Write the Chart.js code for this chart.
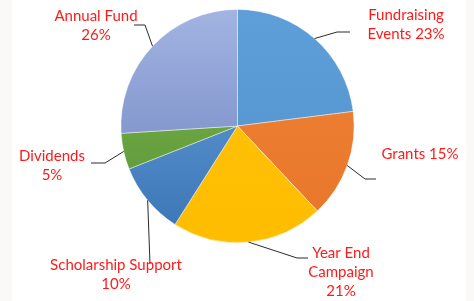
<!DOCTYPE html>
<html>
<head>
<meta charset="utf-8">
<script src="https://cdn.jsdelivr.net/npm/chart.js@4/dist/chart.umd.min.js"></script>
<style>
html,body{margin:0;padding:0;background:#fff;}
canvas{display:block;}
</style>
</head>
<body>
<canvas id="c" width="474" height="301"></canvas>
<script>
// ---- data ----
const categories = ["Fundraising Events", "Grants", "Year End Campaign", "Scholarship Support", "Dividends", "Annual Fund"];
const values = [23, 15, 21, 10, 5, 26];
const labelLines = [
  ["Fundraising", "Events 23%"],
  ["Grants 15%"],
  ["Year End", "Campaign", "21%"],
  ["Scholarship Support", "10%"],
  ["Dividends", "5%"],
  ["Annual Fund", "26%"]
];

// ---- styles / layout ----
// colour stops (top of pie -> bottom of pie)
const sliceColors = [
  ["#5e9fd9", "#5392cc"],
  ["#ef8236", "#e8762a"],
  ["#ffc20a", "#ffbd00"],
  ["#6aa2dc", "#3a74b4"],
  ["#7ab74f", "#5a9234"],
  ["#a3b4e2", "#6a80be"]
];
// label text centre (x, first-line y), elbow point, end point of leader
const labelLayout = [
  {x: 406, y: 15, elbow: [337, 32], end: [350, 32]},
  {x: 420, y: 154, elbow: [365, 179], end: [376, 179]},
  {x: 341, y: 253, elbow: [297, 258], end: [308, 258]},
  {x: 116, y: 265, elbow: null, end: [150, 264]},
  {x: 52, y: 156, elbow: [105, 163], end: [91, 163]},
  {x: 96, y: 16, elbow: [145, 25], end: [134, 25]}
];
const lineHeight = 19;
const labelFont = "15px Lato";
const labelColor = "#ff1a1a";

const bgPlugin = {
  id: 'bg',
  beforeDraw(chart) {
    const c = chart.ctx;
    c.save();
    c.fillStyle = "#ffffff";
    c.fillRect(0, 0, chart.width, chart.height);
    c.fillStyle = "#fbf8f8";
    c.fillRect(0, 0, 12, chart.height);
    c.fillRect(466, 0, chart.width - 466, chart.height);
    c.restore();
  }
};

const labelPlugin = {
  id: 'labels',
  afterDraw(chart) {
    const c = chart.ctx;
    const meta = chart.getDatasetMeta(0);
    c.save();
    meta.data.forEach((arc, i) => {
      const p = arc.getProps(['x', 'y', 'startAngle', 'endAngle', 'outerRadius'], true);
      const mid = (p.startAngle + p.endAngle) / 2;
      const ax = p.x + Math.cos(mid) * p.outerRadius;
      const ay = p.y + Math.sin(mid) * p.outerRadius;
      const L = labelLayout[i];
      c.strokeStyle = "#2b2b2b";
      c.lineWidth = 1;
      c.beginPath();
      c.moveTo(ax, ay);
      if (L.elbow) c.lineTo(L.elbow[0], L.elbow[1]);
      c.lineTo(L.end[0], L.end[1]);
      c.stroke();
      c.fillStyle = labelColor;
      c.font = labelFont;
      c.textAlign = "center";
      c.textBaseline = "middle";
      labelLines[i].forEach((t, k) => {
        c.fillText(t, L.x, L.y + k * lineHeight);
      });
    });
    c.restore();
  }
};

function sliceBg(ctx) {
  const chart = ctx.chart;
  const area = chart.chartArea;
  if (!area) return sliceColors[ctx.dataIndex][0];
  const g = chart.ctx.createLinearGradient(0, area.top, 0, area.bottom);
  const s = sliceColors[ctx.dataIndex];
  g.addColorStop(0, s[0]);
  g.addColorStop(1, s[1]);
  return g;
}

new Chart(document.getElementById('c'), {
  type: 'pie',
  data: {
    labels: categories,
    datasets: [{
      data: values,
      backgroundColor: sliceBg,
      borderColor: "rgba(255,255,255,0.55)",
      borderWidth: 0.8,
      hoverOffset: 0,
      offset: 0
    }]
  },
  options: {
    responsive: false,
    animation: false,
    devicePixelRatio: 1,
    layout: {padding: {top: 9, bottom: 58, left: 1, right: 0}},
    plugins: {legend: {display: false}, tooltip: {enabled: false}}
  },
  plugins: [bgPlugin, labelPlugin]
});
</script>
</body>
</html>
